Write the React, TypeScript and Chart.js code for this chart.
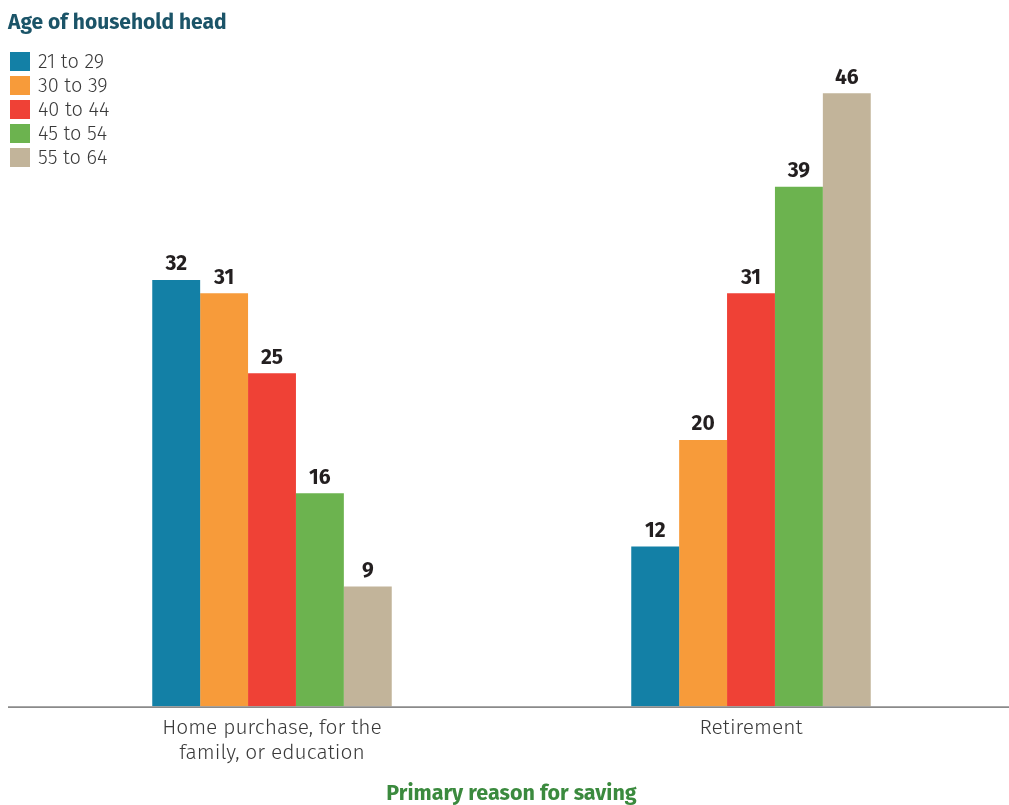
import React, { useEffect, useRef } from "react";
import { Chart, registerables } from "chart.js";

Chart.register(...registerables);

const categories: string[][] = [["Home purchase, for the", "family, or education"], ["Retirement"]];
const seriesLabels = ["21 to 29", "30 to 39", "40 to 44", "45 to 54", "55 to 64"];
const values21to29 = [32, 12];
const values30to39 = [31, 20];
const values40to44 = [25, 31];
const values45to54 = [16, 39];
const values55to64 = [9, 46];
const seriesColors = ["#1380A6", "#F79B3A", "#EF4136", "#6CB34F", "#C2B49A"];
const legendTitle = "Age of household head";
const axisTitle = "Primary reason for saving";

const FONT = "'Fira Sans', Lato, 'Open Sans', sans-serif";

export default function App() {
  const ref = useRef<HTMLCanvasElement | null>(null);
  useEffect(() => {
    if (!ref.current) return;
    const allValues = [values21to29, values30to39, values40to44, values45to54, values55to64];
    const valueLabels = {
      id: "valueLabels",
      afterDatasetsDraw(chart: any) {
        const ctx = chart.ctx;
        ctx.save();
        ctx.font = `bold 21px ${FONT}`;
        ctx.fillStyle = "#231F20";
        ctx.textAlign = "center";
        ctx.textBaseline = "bottom";
        chart.data.datasets.forEach((ds: any, i: number) => {
          const meta = chart.getDatasetMeta(i);
          meta.data.forEach((bar: any, j: number) => {
            ctx.fillText(String(ds.data[j]), bar.x, bar.y - 5);
          });
        });
        const y = chart.chartArea.bottom + 0.5;
        ctx.strokeStyle = "#8a8a8a";
        ctx.lineWidth = 1.6;
        ctx.beginPath();
        ctx.moveTo(8, y);
        ctx.lineTo(1009, y);
        ctx.stroke();
        ctx.restore();
      },
    };
    const chart = new Chart(ref.current, {
      type: "bar",
      data: {
        labels: categories,
        datasets: seriesLabels.map((l, i) => ({
          label: l,
          data: allValues[i],
          backgroundColor: seriesColors[i],
          borderWidth: 0,
          categoryPercentage: 0.5,
          barPercentage: 1.0,
        })),
      },
      options: {
        responsive: false,
        animation: false,
        layout: { padding: { left: 32.5, right: 18.5, top: 40, bottom: 0 } },
        plugins: { legend: { display: false }, tooltip: { enabled: false }, title: { display: false } },
        scales: {
          y: { display: false, min: 0, max: 50 },
          x: {
            grid: { display: false, drawTicks: false },
            border: { display: false },
            ticks: {
              padding: 9,
              color: "#3a3a3a",
              font: { family: FONT, size: 21, weight: "300", lineHeight: 1.2 },
            },
            title: {
              display: true,
              text: axisTitle,
              color: "#3B8A3E",
              font: { family: FONT, size: 21.5, weight: "bold", lineHeight: 1.0 },
              padding: { top: 8.5, bottom: 0 },
            },
          },
        },
      },
      plugins: [valueLabels],
    });
    return () => chart.destroy();
  }, []);

  return (
    <div style={{ position: "fixed", left: 0, top: 0, width: 1009, height: 805, background: "#fff", fontFamily: FONT }}>
      <canvas ref={ref} width={1009} height={805} style={{ display: "block", position: "absolute", left: 0, top: 0 }} />
      <div style={{ position: "absolute", left: 8, top: 8, fontSize: 21, fontWeight: "bold", color: "#1B5468", lineHeight: "28px" }}>
        {legendTitle}
      </div>
      <div style={{ position: "absolute", left: 10, top: 49 }}>
        {seriesLabels.map((l, i) => (
          <div key={l} style={{ display: "flex", alignItems: "center", height: 24 }}>
            <div style={{ width: 20, height: 19, background: seriesColors[i], marginRight: 8 }} />
            <span style={{ fontSize: 20, fontWeight: 300, color: "#3a3a3a", lineHeight: "24px" }}>{l}</span>
          </div>
        ))}
      </div>
    </div>
  );
}
